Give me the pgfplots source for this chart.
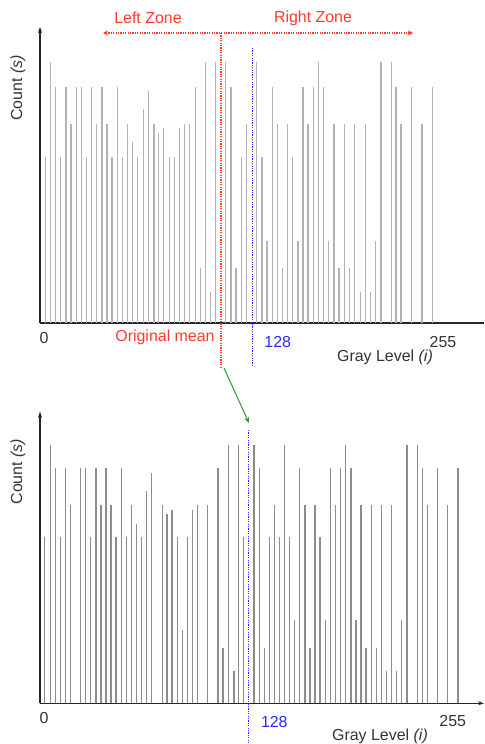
\documentclass[border=0pt]{standalone}
\usepackage{pgfplots}
\pgfplotsset{compat=1.18}
\usepackage{pgfplotstable}
\usepackage{fontspec}
\setmainfont{Liberation Sans}
\usetikzlibrary{arrows.meta}
\definecolor{zred}{HTML}{FF3B2A}
\definecolor{zblue}{HTML}{2A2AFF}
\definecolor{zgreen}{HTML}{2E9B3A}
\definecolor{txt}{HTML}{333333}

\pgfplotstableread{
x y
5.3 166
10.7 261
15.7 236
20.7 166
26 236
31 199
36.3 236
41.3 236
46.7 166
51.7 236
56.7 199
62 236
67 199
72 166
77.3 236
82.3 166
87.3 199
92.7 181
97.7 166
103.3 214
108.3 232
114 199
118.7 190
123.7 195
129.3 166
134.7 166
139.7 195
144.7 199
149.7 199
155.3 236
160.3 55
165.3 261
170.3 31
175.3 261
185.7 261
191 236
196 55
201.7 166
206.7 199
216.7 261
222 166
227 82
232.3 236
237.3 199
242.7 55
247.7 199
252.7 166
258 82
263 236
268 199
273.3 236
278.7 261
283.7 236
288.7 82
294 199
299 55
304.3 199
309.3 55
314.3 199
320.7 31
325.3 199
330.7 31
335.7 82
341 261
351.3 261
356 236
361 199
371.3 236
382 199
392.3 236
}\topdata

\pgfplotstableread{
x y
4.7 166
10.3 258
15.3 235
20.3 166
25.3 235
30.7 198
40.7 235
45.7 235
50.7 166
56 235
61 198
66 235
71 198
76 166
81.3 235
86.3 166
91.7 198
96.7 179
101.7 166
106.7 212
111.7 230
122.3 198
127 189
132 193
137.3 166
142.7 73
147.3 166
152.3 193
157.3 198
167.7 198
178 235
183 55
188.3 258
194 32
198.7 258
203.7 166
214 258
219.3 235
224.3 55
229.3 166
234.7 198
239.7 166
244.7 258
249.7 166
254.7 83
259.7 235
265 198
270 55
275 198
280 166
285.3 83
290.3 235
295.3 198
300.7 235
305.7 258
311 235
316 83
321 198
326 55
331.3 198
336.3 55
341.3 198
346.3 32
351.7 198
356.7 32
361.7 83
367 258
377.3 258
382.3 235
387.3 198
397.3 235
407.7 198
418 235
}\botdata

\tikzset{lbl/.style={font=\fontsize{16}{19}\selectfont, text=txt, inner sep=0pt},
  dots/.style={line width=1.5bp, dash pattern=on 1.2bp off 1.2bp}}
\pgfplotsset{
  myaxis/.style={
    scale only axis, anchor=south west,
    width=444bp, xmin=0, xmax=444, ymin=0,
    axis lines=left, xtick=\empty, ytick=\empty,
    clip=false,
    axis line style={line width=1.4bp, black!85},
  },
}

\begin{document}
\begin{tikzpicture}
\useasboundingbox (0,0) rectangle (485bp,-744bp);
% ---------------- top panel
\begin{axis}[myaxis, at={(40bp,-323bp)}, height=296bp, ymax=296,
  x axis line style={-},
  y axis line style={-{Stealth[length=6bp,width=4bp]}}]
\addplot[ycomb, draw=black!30, line width=1.4bp, mark=none] table[x=x,y=y] {\topdata};
\draw[zred, dots, {Stealth[length=5bp,width=5bp]}-{Stealth[length=5bp,width=5bp]}] (axis cs:63,290) -- (axis cs:373,290);
\draw[zred, dots] (axis cs:181,290) -- (axis cs:181,-44);
\draw[zblue, dots] (axis cs:212.3,275) -- (axis cs:212.3,-42);
\node[lbl, text=zred] at (axis cs:108,305) {Left Zone};
\node[lbl, text=zred] at (axis cs:273,305) {Right Zone};
\node[lbl, text=zred] at (axis cs:125,-14) {Original mean};
\node[lbl] at (axis cs:4,-15) {0};
\node[lbl, text=zblue] at (axis cs:237.7,-19) {128};
\node[lbl] at (axis cs:403,-19) {255};
\node[lbl] at (axis cs:345,-34) {Gray Level \textit{(i)}};
\node[lbl, rotate=90] at (axis cs:-22,235) {Count \textit{(s)}};
\draw[zgreen, line width=1bp, -{Stealth[length=6bp,width=5bp]}] (axis cs:184,-45) -- (axis cs:209,-100);
\end{axis}
% ---------------- bottom panel
\begin{axis}[myaxis, at={(40bp,-703.3bp)}, height=291.6bp, ymax=291.6,
  x axis line style={-{Stealth[length=6bp,width=4bp]}},
  y axis line style={-{Stealth[length=6bp,width=4bp]}}]
\addplot[ycomb, draw=black!45, line width=1.4bp, mark=none] table[x=x,y=y] {\botdata};
\draw[zblue, dots] (axis cs:208.3,273.3) -- (axis cs:208.3,-41);
\node[lbl] at (axis cs:4,-15) {0};
\node[lbl, text=zblue] at (axis cs:234.3,-18.4) {128};
\node[lbl] at (axis cs:412.7,-18) {255};
\node[lbl] at (axis cs:340,-33.4) {Gray Level \textit{(i)}};
\node[lbl, rotate=90] at (axis cs:-22,231.6) {Count \textit{(s)}};
\end{axis}
\end{tikzpicture}
\end{document}
